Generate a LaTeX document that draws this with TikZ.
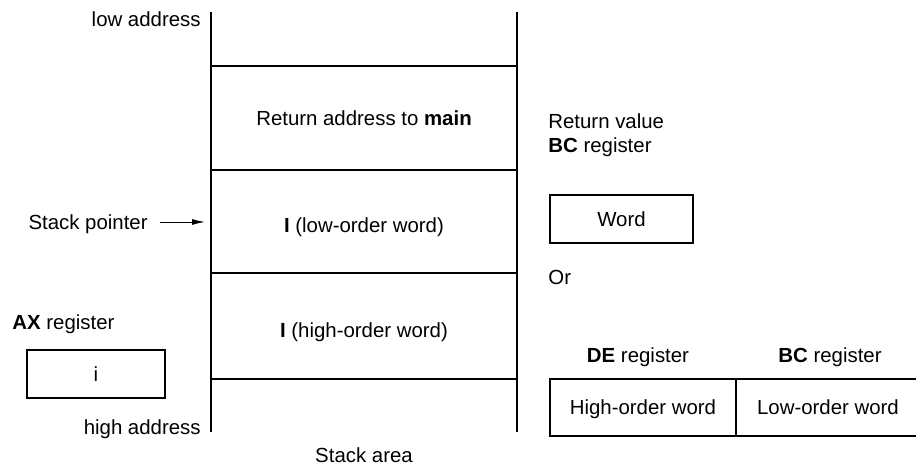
\documentclass[tikz,border=0pt]{standalone}
\usepackage{fontspec}
\setmainfont{Liberation Sans}
\usetikzlibrary{arrows.meta,positioning}

\begin{document}
\begin{tikzpicture}[x=0.5pt,y=-0.5pt,
  lbl/.style={font=\fontsize{10.2}{12}\selectfont,inner sep=0pt,text height=8.8pt,text depth=1.6pt},
  wall/.style={line width=1.4pt},
  cell/.style={line width=1.2pt},
  regbox/.style={draw,line width=1pt,font=\fontsize{10.2}{12}\selectfont,text height=8.8pt,text depth=1.6pt,minimum height=24pt,inner sep=0pt},
  ptr/.style={-{Latex[length=6.5pt,width=3pt]},line width=0.5pt}]
\useasboundingbox (0,0) rectangle (916,465);
% stack area
\draw[wall] (211,12) -- (211,432);
\draw[wall] (517,12) -- (517,432);
\foreach \y in {66,170,273,379}
  \draw[cell] (211,\y) -- (517,\y);
\node[lbl,anchor=east] (low) at (201,19) {low address};
\node[lbl,anchor=east] (high) at (201,427) {high address};
\node[lbl] (ret) at (364,118) {Return address to \textbf{main}};
\node[lbl] (lw) at (364,225) {\textbf{I} (low-order word)};
\node[lbl] (hw) at (364,330) {\textbf{I} (high-order word)};
\node[lbl] (area) at (364,455) {Stack area};
% stack pointer
\node[lbl,anchor=east] (sp) at (148,222) {Stack pointer};
\coordinate (sptip) at (205,222);
\draw[ptr] ([xshift=6pt]sp.east) -- (sptip);
% AX register
\node[lbl,anchor=west] (ax) at (12,322) {\textbf{AX} register};
\node[regbox,minimum width=69pt] (axbox) at (96,374) {i};
% return value
\node[lbl,anchor=west] (rv) at (548,121) {Return value};
\node[lbl,anchor=west] (bc1) at (548,145) {\textbf{BC} register};
\node[regbox,minimum width=71.5pt] (word) at (621.5,219) {Word};
\node[lbl,anchor=west] (or) at (548,277) {Or};
\node[lbl] (de) at (638,355) {\textbf{DE} register};
\node[lbl] (bc2) at (830,355) {\textbf{BC} register};
\node[regbox,minimum width=93pt,minimum height=28.5pt] (hiw) at (643,407.5) {High-order word};
\node[regbox,minimum width=92pt,minimum height=28.5pt,right=-1pt of hiw] (loww) {Low-order word};
\end{tikzpicture}
\end{document}
